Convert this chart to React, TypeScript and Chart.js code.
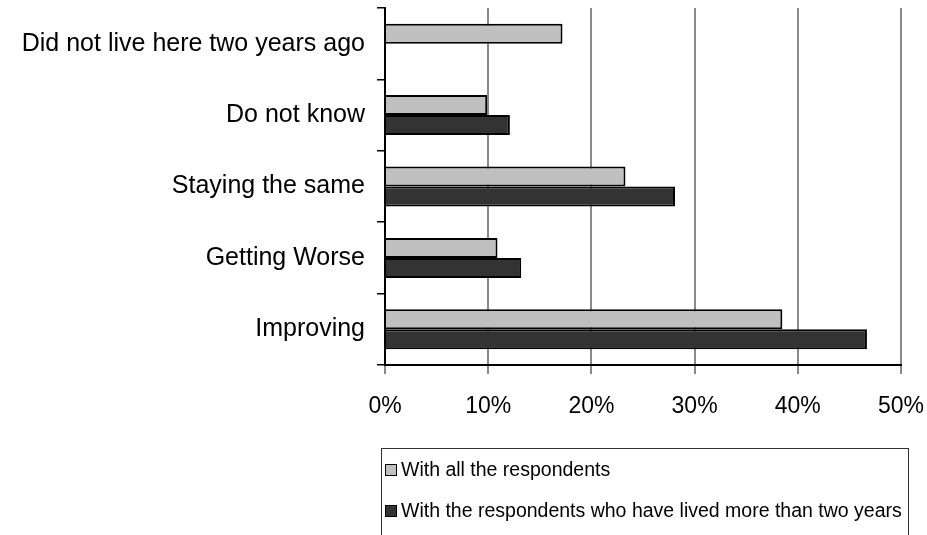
import React, { useEffect, useRef } from "react";
import { Chart, registerables } from "chart.js";

Chart.register(...registerables);

const categories = [
  "Did not live here two years ago",
  "Do not know",
  "Staying the same",
  "Getting Worse",
  "Improving",
];
const allRespondents = [17.2, 9.9, 23.3, 10.9, 38.5];
const longTermRespondents = [null, 12.1, 28.1, 13.2, 46.7];
const seriesNames = [
  "With all the respondents",
  "With the respondents who have lived more than two years",
];
const xTickLabels = ["0%", "10%", "20%", "30%", "40%", "50%"];

const FONT = "'Liberation Sans', Arial, sans-serif";
const LIGHT = "#c0c0c0";
const DARK = "#333333";

const legendBoxPlugin = {
  id: "legendBox",
  afterDraw(chart: any) {
    const ctx = chart.ctx;
    const ds = chart.data.datasets;
    ctx.save();
    ctx.strokeStyle = "#333333";
    ctx.lineWidth = 1;
    ctx.strokeRect(381.5, 448.5, 527, 100);
    ctx.font = `19.5px ${FONT}`;
    ctx.textBaseline = "middle";
    ctx.textAlign = "left";
    const rows = [470, 511];
    ds.forEach((d: any, i: number) => {
      const y = rows[i];
      ctx.fillStyle = d.backgroundColor;
      ctx.fillRect(385, y - 6, 12, 12);
      ctx.strokeStyle = "#000";
      ctx.strokeRect(385.5, y - 5.5, 11, 11);
      ctx.fillStyle = "#000";
      ctx.fillText(d.label, 401, y + 1);
    });
    ctx.restore();
  },
};

export default function App() {
  const ref = useRef<HTMLCanvasElement>(null);
  useEffect(() => {
    if (!ref.current) return;
    const chart = new Chart(ref.current, {
      type: "bar",
      data: {
        labels: categories,
        datasets: [
          {
            label: seriesNames[0],
            data: allRespondents,
            backgroundColor: LIGHT,
            borderColor: "#000",
            borderWidth: 2,
          },
          {
            label: seriesNames[1],
            data: longTermRespondents as any,
            backgroundColor: DARK,
            borderColor: "#000",
            borderWidth: 2,
          },
        ],
      },
      options: {
        indexAxis: "y",
        animation: false,
        responsive: false,
        maintainAspectRatio: false,
        layout: { padding: { top: 8, right: 26, left: 0, bottom: 0 } },
        datasets: {
          bar: { categoryPercentage: 0.56, barPercentage: 1 },
        },
        plugins: {
          legend: { display: false },
          tooltip: { enabled: false },
        },
        scales: {
          x: {
            min: 0,
            max: 50,
            ticks: {
              stepSize: 10,
              color: "#000",
              font: { family: FONT, size: 23 },
              padding: 19,
              callback: (_v: any, i: number) => xTickLabels[i],
            },
            grid: {
              color: "#8a8a8a",
              lineWidth: 2,
              tickLength: 9,
              drawTicks: true,
            },
            border: { display: true, color: "#000", width: 2 },
            afterFit: (s: any) => {
              s.height = 170;
              s.paddingLeft = 0;
              s.paddingRight = 0;
            },
          },
          y: {
            ticks: {
              color: "#000",
              font: { family: FONT, size: 25 },
              padding: 12,
            },
            grid: {
              drawOnChartArea: false,
              drawTicks: true,
              tickLength: 8,
              color: "#000",
              lineWidth: 1.5,
              offset: true,
            },
            border: { display: true, color: "#000", width: 2 },
            afterFit: (s: any) => {
              s.width = 385;
              s.paddingTop = 0;
              s.paddingBottom = 0;
            },
          },
        },
      },
      plugins: [legendBoxPlugin],
    });
    return () => chart.destroy();
  }, []);
  return (
    <div style={{ position: "fixed", left: 0, top: 0, width: 927, height: 535, background: "#fff" }}>
      <canvas ref={ref} width={927} height={535} style={{ display: "block" }} />
    </div>
  );
}
